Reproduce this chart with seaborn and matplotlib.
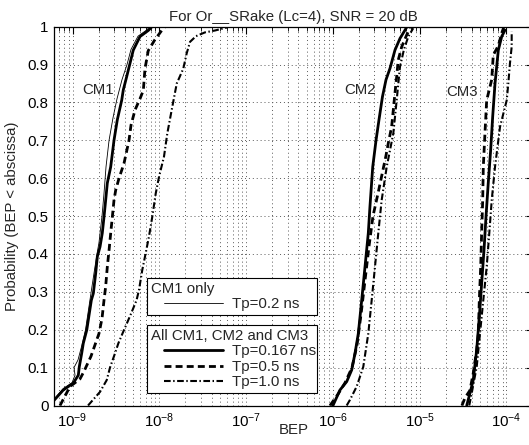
import numpy as np
import pandas as pd
import seaborn as sns
import matplotlib.pyplot as plt
from matplotlib.lines import Line2D
from matplotlib.legend_handler import HandlerLine2D
from matplotlib.ticker import LogLocator, NullFormatter

# CDF curves: probability levels and log10(BEP)
cm1_tp02_prob = [0.015, 0.045, 0.06, 0.08, 0.10, 0.12, 0.16, 0.20, 0.28, 0.35, 0.40, 0.43, 0.50,
                 0.56, 0.63, 0.70, 0.76, 0.81, 0.86, 0.90, 0.94, 0.975, 0.99, 1.0]
cm1_tp02_logbep = [-9.219, -9.106, -9.006, -8.971, -8.983, -8.937, -8.891, -8.850, -8.798, -8.752,
                   -8.718, -8.695, -8.660, -8.637, -8.614, -8.579, -8.533, -8.487, -8.430, -8.372,
                   -8.326, -8.245, -8.153, -8.107]

cm1_tp0167_prob = [0.012, 0.041, 0.059, 0.08, 0.102, 0.138, 0.164, 0.199, 0.278, 0.296, 0.349, 0.393,
                   0.419, 0.455, 0.498, 0.542, 0.587, 0.63, 0.70, 0.754, 0.806, 0.833, 0.868, 0.903,
                   0.938, 0.974, 0.99, 1.0]
cm1_tp0167_logbep = [-9.219, -9.106, -8.991, -8.933, -8.922, -8.894, -8.876, -8.836, -8.783, -8.760,
                     -8.733, -8.714, -8.683, -8.657, -8.637, -8.618, -8.599, -8.560, -8.522, -8.484,
                     -8.433, -8.415, -8.376, -8.338, -8.300, -8.222, -8.127, -8.084]

cm1_tp05_prob = [0.0, 0.03, 0.05, 0.07, 0.09, 0.13, 0.16, 0.19, 0.23, 0.278, 0.314, 0.366, 0.41, 0.455,
                 0.498, 0.542, 0.569, 0.60, 0.639, 0.70, 0.74, 0.78, 0.81, 0.832, 0.889, 0.937, 0.966,
                 0.99, 1.0]
cm1_tp05_logbep = [-9.144, -9.075, -9.029, -8.914, -8.868, -8.787, -8.741, -8.695, -8.660, -8.637,
                   -8.618, -8.599, -8.579, -8.560, -8.541, -8.522, -8.502, -8.464, -8.407, -8.349,
                   -8.326, -8.280, -8.222, -8.184, -8.165, -8.127, -8.050, -7.972, -7.934]

cm1_tp10_prob = [0.0, 0.036, 0.067, 0.10, 0.138, 0.164, 0.195, 0.24, 0.278, 0.305, 0.358, 0.402, 0.446,
                 0.498, 0.56, 0.604, 0.657, 0.718, 0.789, 0.85, 0.889, 0.93, 0.96, 0.975, 0.985,
                 0.99, 0.998]
cm1_tp10_logbep = [-8.821, -8.683, -8.606, -8.568, -8.510, -8.472, -8.415, -8.330, -8.262, -8.234,
                   -8.196, -8.157, -8.119, -8.081, -8.041, -8.003, -7.946, -7.908, -7.850, -7.799,
                   -7.724, -7.684, -7.646, -7.577, -7.474, -7.358, -7.220]

cm2_tp0167_prob = [0.0, 0.041, 0.063, 0.094, 0.138, 0.19, 0.278, 0.366, 0.455, 0.525, 0.63, 0.70,
                   0.754, 0.815, 0.86, 0.89, 0.938, 0.969, 0.991, 1.0]
cm2_tp0167_logbep = [-5.999, -5.918, -5.841, -5.783, -5.745, -5.707, -5.668, -5.630, -5.592, -5.573,
                     -5.541, -5.503, -5.469, -5.429, -5.388, -5.342, -5.285, -5.227, -5.169, -5.146]

cm2_tp05_prob = [0.0, 0.03, 0.06, 0.10, 0.16, 0.24, 0.33, 0.42, 0.50, 0.56, 0.61, 0.66, 0.692, 0.736,
                 0.78, 0.824, 0.868, 0.912, 0.947, 0.978, 0.996]
cm2_tp05_logbep = [-6.033, -5.941, -5.860, -5.780, -5.722, -5.676, -5.630, -5.584, -5.538, -5.480,
                   -5.434, -5.388, -5.362, -5.323, -5.304, -5.285, -5.265, -5.247, -5.207, -5.150,
                   -5.112]

cm2_tp10_prob = [0.0, 0.015, 0.05, 0.102, 0.19, 0.278, 0.366, 0.455, 0.542, 0.63, 0.718, 0.806, 0.894,
                 0.94, 0.974, 0.996]
cm2_tp10_logbep = [-5.841, -5.803, -5.726, -5.650, -5.592, -5.553, -5.515, -5.477, -5.438, -5.380,
                   -5.304, -5.265, -5.227, -5.181, -5.131, -5.074]

cm3_tp0167_prob = [0.0, 0.032, 0.067, 0.147, 0.234, 0.322, 0.41, 0.498, 0.587, 0.675, 0.762, 0.85,
                   0.938, 0.974, 0.991]
cm3_tp0167_logbep = [-4.458, -4.421, -4.383, -4.343, -4.313, -4.286, -4.259, -4.236, -4.210, -4.182,
                     -4.159, -4.132, -4.094, -4.055, -4.017]

cm3_tp05_prob = [0.0, 0.02, 0.04, 0.085, 0.147, 0.19, 0.278, 0.366, 0.455, 0.542, 0.63, 0.718, 0.806,
                 0.86, 0.925, 0.95, 0.985, 1.0]
cm3_tp05_logbep = [-4.513, -4.478, -4.421, -4.383, -4.343, -4.324, -4.313, -4.297, -4.286, -4.274,
                   -4.267, -4.248, -4.228, -4.170, -4.152, -4.094, -4.052, -4.029]

cm3_tp10_prob = [0.0, 0.032, 0.102, 0.19, 0.278, 0.366, 0.455, 0.542, 0.63, 0.736, 0.806, 0.85, 0.903,
                 0.947, 0.987]
cm3_tp10_logbep = [-4.429, -4.401, -4.343, -4.305, -4.267, -4.228, -4.198, -4.170, -4.132, -4.074,
                   -3.997, -3.979, -3.960, -3.940, -3.940]

bep_ticks = [1e-9, 1e-8, 1e-7, 1e-6, 1e-5, 1e-4]
prob_ticks = [0, 0.1, 0.2, 0.3, 0.4, 0.5, 0.6, 0.7, 0.8, 0.9, 1.0]
prob_ticklabels = ['0', '0.1', '0.2', '0.3', '0.4', '0.5', '0.6', '0.7', '0.8', '0.9', '1']

curves = [
    ('CM1', 'Tp=0.2 ns', cm1_tp02_logbep, cm1_tp02_prob),
    ('CM1', 'Tp=0.167 ns', cm1_tp0167_logbep, cm1_tp0167_prob),
    ('CM1', 'Tp=0.5 ns', cm1_tp05_logbep, cm1_tp05_prob),
    ('CM1', 'Tp=1.0 ns', cm1_tp10_logbep, cm1_tp10_prob),
    ('CM2', 'Tp=0.167 ns', cm2_tp0167_logbep, cm2_tp0167_prob),
    ('CM2', 'Tp=0.5 ns', cm2_tp05_logbep, cm2_tp05_prob),
    ('CM2', 'Tp=1.0 ns', cm2_tp10_logbep, cm2_tp10_prob),
    ('CM3', 'Tp=0.167 ns', cm3_tp0167_logbep, cm3_tp0167_prob),
    ('CM3', 'Tp=0.5 ns', cm3_tp05_logbep, cm3_tp05_prob),
    ('CM3', 'Tp=1.0 ns', cm3_tp10_logbep, cm3_tp10_prob),
]
frames = []
for ch, tp, logbep, prob in curves:
    frames.append(pd.DataFrame({'channel': ch, 'tp': tp,
                                'bep': 10.0 ** np.array(logbep), 'prob': prob}))
df = pd.concat(frames, ignore_index=True)

sns.set_style('white')
plt.rcParams['font.family'] = ['Liberation Sans', 'DejaVu Sans']
plt.rcParams['mathtext.fontset'] = 'custom'
plt.rcParams['mathtext.rm'] = 'Liberation Sans'
plt.rcParams['mathtext.default'] = 'regular'
fs = 10.8

fig = plt.figure(figsize=(5.29, 4.45), dpi=100)
ax = fig.add_axes([54 / 529, 1 - 405.5 / 445, 478.6 / 529, 378.8 / 445])

styles = {
    'Tp=0.2 ns': dict(lw=0.6, ls='-'),
    'Tp=0.167 ns': dict(lw=2.0, ls='-'),
    'Tp=0.5 ns': dict(lw=2.0, ls=(0, (2.5, 1.5))),
    'Tp=1.0 ns': dict(lw=1.5, ls=(0, (3.2, 1.2, 0.7, 1.2))),
}
for tp, st in styles.items():
    sns.lineplot(data=df[df['tp'] == tp], x='bep', y='prob', units='channel', estimator=None,
                 sort=False, color='black', linewidth=st['lw'], linestyle=st['ls'],
                 legend=False, ax=ax)

ax.set_xscale('log')
ax.set_xlim(6.12e-10, 2e-4)
ax.set_ylim(0, 1)
ax.set_xticks(bep_ticks)
ax.xaxis.set_minor_locator(LogLocator(base=10, subs=np.arange(2, 10)))
ax.xaxis.set_minor_formatter(NullFormatter())
ax.set_yticks(prob_ticks)
ax.set_yticklabels(prob_ticklabels)
ax.tick_params(which='both', direction='in', top=True, right=True, labelsize=fs, colors='black')
ax.tick_params(which='major', length=5, width=0.8)
ax.tick_params(which='minor', length=3, width=0.6)
ax.tick_params(axis='x', pad=4)
ax.tick_params(axis='y', pad=4)

ax.grid(True, which='major', ls=(0, (1, 3)), lw=0.7, color='0.35')
ax.grid(True, which='minor', axis='x', ls=(0, (1, 3)), lw=0.7, color='0.35')
for sp in ax.spines.values():
    sp.set_color('black')
    sp.set_linewidth(0.9)

ax.set_title('For Or__SRake (Lc=4), SNR = 20 dB', fontsize=fs, pad=4)
ax.set_xlabel('BEP', fontsize=fs)
ax.set_ylabel('Probability (BEP < abscissa)', fontsize=fs)
ax.xaxis.set_label_coords(0.5, -0.045)
ax.yaxis.set_label_coords(-0.073, 0.5)

ax.text(1.97e-9, 0.833, 'CM1', fontsize=fs, ha='center', va='center')
ax.text(2.05e-6, 0.833, 'CM2', fontsize=fs, ha='center', va='center')
ax.text(3.07e-5, 0.828, 'CM3', fontsize=fs, ha='center', va='center')

hmap = {Line2D: HandlerLine2D(xpad=0.9)}
common = dict(loc='upper left', bbox_transform=fig.transFigure, mode='expand', alignment='left',
              frameon=True, fancybox=False, edgecolor='black', framealpha=1, shadow=False,
              handlelength=4.8, handletextpad=0.6, borderpad=0.25, borderaxespad=0,
              labelspacing=0.1, fontsize=fs, title_fontsize=fs, handler_map=hmap)

h1 = [Line2D([], [], color='black', lw=styles['Tp=0.2 ns']['lw'], ls=styles['Tp=0.2 ns']['ls'])]
leg1 = ax.legend(h1, ['Tp=0.2 ns'], title='CM1 only',
                 bbox_to_anchor=(147 / 529, 1 - 317 / 445, 170 / 529, 39 / 445), **common)
leg1.get_frame().set_linewidth(0.8)
ax.add_artist(leg1)

tps = ['Tp=0.167 ns', 'Tp=0.5 ns', 'Tp=1.0 ns']
h2 = [Line2D([], [], color='black', lw=styles[t]['lw'], ls=styles[t]['ls']) for t in tps]
leg2 = ax.legend(h2, tps, title='All CM1, CM2 and CM3',
                 bbox_to_anchor=(147 / 529, 1 - 399 / 445, 170 / 529, 74 / 445), **common)
leg2.get_frame().set_linewidth(0.8)

fig.savefig('out.png', dpi=100)
